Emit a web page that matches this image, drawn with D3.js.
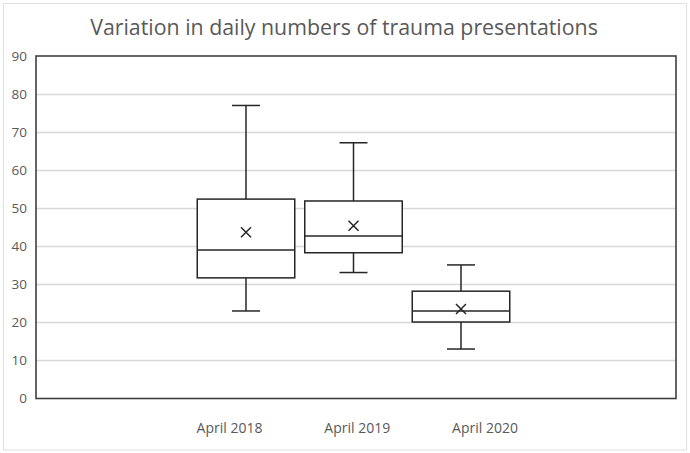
<!DOCTYPE html>
<html><head><meta charset="utf-8">
<script src="https://cdn.jsdelivr.net/npm/d3@7"></script>
<style>body{margin:0;background:#fff}svg{display:block}</style>
</head><body>
<script>
const categories = ["April 2018", "April 2019", "April 2020"];
const whiskerMin = [23, 33.1, 13];
const q1 = [31.7, 38.3, 20.1];
const median = [39, 42.7, 23];
const q3 = [52.4, 51.9, 28.2];
const whiskerMax = [77, 67.2, 35.1];
const means = [43.7, 45.4, 23.5];
const yTicks = [0, 10, 20, 30, 40, 50, 60, 70, 80, 90];
const title = "Variation in daily numbers of trauma presentations";

(function () {
const W = 690, H = 453;
const svg = d3.select("body").append("svg").attr("width", W).attr("height", H);
const pL = 36, pR = 676, pT = 56, pB = 398.5;
const textCol = "#595959";
const font = "Open Sans, Noto Sans, sans-serif";

svg.append("rect").attr("x", 3.5).attr("y", 3.5).attr("width", 683).attr("height", 446.5)
  .attr("fill", "#fff").attr("stroke", "#e0e0e0").attr("stroke-width", 1);

const y = d3.scaleLinear().domain([0, 90]).range([pB, pT]);
const xBox = d3.scalePoint().domain(categories).range([246, 461]);
const xLab = d3.scalePoint().domain(categories).range([229, 484.5]);

// gridlines
svg.append("g").selectAll("line").data(yTicks.slice(1, -1)).join("line")
  .attr("x1", pL).attr("x2", pR)
  .attr("y1", d => Math.round(y(d)) + 0.5).attr("y2", d => Math.round(y(d)) + 0.5)
  .attr("stroke", "#d9d9d9").attr("stroke-width", 1.3);

// y axis labels
const yAxis = d3.axisLeft(y).tickValues(yTicks).tickSize(0).tickPadding(9);
const gy = svg.append("g").attr("transform", `translate(${pL},0)`).call(yAxis);
gy.select(".domain").remove();
gy.selectAll("text").attr("fill", textCol).attr("font-family", font).attr("font-size", 13.5);

// plot border
svg.append("rect").attr("x", pL).attr("y", pT).attr("width", pR - pL).attr("height", pB - pT)
  .attr("fill", "none").attr("stroke", "#404040").attr("stroke-width", 1.6);

// x labels
const xAxis = d3.axisBottom(xLab).tickSize(0).tickPadding(0);
const gx = svg.append("g").attr("transform", `translate(0,423)`).call(xAxis);
gx.select(".domain").remove();
gx.selectAll("text").attr("fill", textCol).attr("font-family", font).attr("font-size", 14);

// boxes
const boxW = 97.5, capW = 28;
const data = categories.map((c, i) => ({c, lo: whiskerMin[i], q1: q1[i], med: median[i], q3: q3[i], hi: whiskerMax[i], mean: means[i]}));
const g = svg.append("g").attr("stroke", "#262626").attr("stroke-width", 1.5).attr("fill", "none");
const b = g.selectAll("g").data(data).join("g").attr("transform", d => `translate(${xBox(d.c)},0)`);
b.append("line").attr("x1", 0).attr("x2", 0).attr("y1", d => y(d.hi)).attr("y2", d => y(d.q3));
b.append("line").attr("x1", 0).attr("x2", 0).attr("y1", d => y(d.q1)).attr("y2", d => y(d.lo));
b.append("line").attr("x1", -capW / 2).attr("x2", capW / 2).attr("y1", d => y(d.hi)).attr("y2", d => y(d.hi));
b.append("line").attr("x1", -capW / 2).attr("x2", capW / 2).attr("y1", d => y(d.lo)).attr("y2", d => y(d.lo));
b.append("rect").attr("x", -boxW / 2).attr("width", boxW).attr("y", d => y(d.q3)).attr("height", d => y(d.q1) - y(d.q3)).attr("fill", "#fff");
b.append("line").attr("x1", -boxW / 2).attr("x2", boxW / 2).attr("y1", d => y(d.med)).attr("y2", d => y(d.med));
const m = 5;
b.append("path").attr("d", d => `M${-m},${y(d.mean) - m}L${m},${y(d.mean) + m}M${-m},${y(d.mean) + m}L${m},${y(d.mean) - m}`);

// title
const t = svg.append("text").attr("x", 344).attr("y", 35).attr("text-anchor", "middle")
  .attr("fill", textCol).attr("font-family", font).attr("font-size", 20).text(title);
const tw = t.node().getComputedTextLength();
t.attr("font-size", 20 * 508 / tw);
})();
</script>
</body></html>
